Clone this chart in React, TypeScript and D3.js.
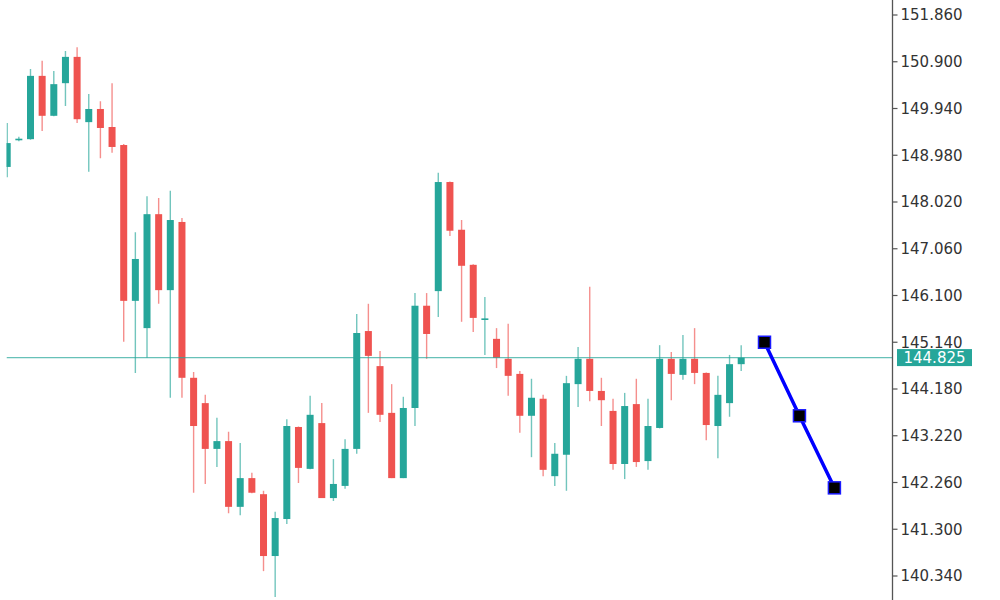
import * as d3 from "d3";

// OHLC per candle
const opens = [
  148.74, 149.3, 149.31, 150.61, 149.79, 150.46, 151.0, 149.66, 149.93, 149.56,
  149.19, 145.99, 145.43, 147.77, 146.21, 147.61, 144.41, 143.89, 142.95, 143.11,
  141.76, 142.35, 142.02, 140.75, 141.51, 143.4, 142.54, 143.48, 141.94, 142.19,
  142.95, 145.37, 144.65, 143.69, 142.35, 143.79, 145.89, 146.19, 148.43, 147.45,
  146.73, 145.61, 145.21, 144.8, 144.49, 143.63, 143.98, 142.39, 142.83, 144.28,
  144.8, 144.14, 143.73, 142.64, 143.87, 142.7, 143.38, 144.8, 144.47, 144.8,
  144.51, 143.42, 143.89, 144.69,
];
const highs = [
  149.64, 149.36, 150.75, 150.92, 150.71, 151.12, 151.2, 150.24, 150.09, 150.46,
  149.21, 147.4, 148.14, 148.1, 148.25, 147.69, 144.53, 144.06, 143.59, 143.3,
  143.07, 142.46, 142.09, 141.66, 143.56, 143.41, 144.04, 143.89, 142.74, 143.15,
  145.72, 145.93, 144.96, 144.28, 144.02, 146.15, 146.15, 148.62, 148.44, 147.65,
  146.74, 146.07, 145.43, 145.52, 144.55, 144.39, 144.06, 143.07, 144.45, 145.04,
  146.28, 144.41, 143.98, 144.1, 144.39, 143.98, 145.08, 144.94, 145.29, 145.43,
  144.52, 144.45, 144.88, 145.08,
];
const lows = [
  148.53, 149.27, 149.3, 149.48, 149.78, 149.99, 149.64, 148.64, 148.92, 149.03,
  145.15, 144.51, 144.82, 145.93, 144.0, 144.0, 142.05, 142.23, 142.58, 141.63,
  141.59, 142.04, 140.44, 139.91, 141.41, 142.25, 142.53, 141.94, 141.88, 142.13,
  142.85, 143.69, 143.5, 142.35, 142.35, 143.42, 144.8, 145.66, 147.32, 145.56,
  145.35, 144.88, 144.61, 144.04, 143.28, 142.78, 142.39, 142.19, 142.09, 143.81,
  143.93, 143.42, 142.52, 142.33, 142.58, 142.52, 143.37, 143.95, 144.37, 144.28,
  143.13, 142.76, 143.61, 144.55,
];
const closes = [
  149.23, 149.32, 150.61, 149.79, 150.44, 151.0, 149.72, 149.93, 149.54, 149.15,
  145.99, 146.85, 147.77, 146.21, 147.65, 144.41, 143.42, 142.95, 143.11, 141.76,
  142.35, 142.05, 140.75, 141.53, 143.42, 142.56, 143.65, 141.94, 142.23, 142.95,
  145.33, 144.86, 143.65, 142.35, 143.79, 145.89, 145.31, 148.43, 147.43, 146.71,
  145.64, 145.63, 144.82, 144.45, 143.63, 144.0, 142.52, 142.85, 144.3, 144.8,
  144.14, 143.95, 142.64, 143.83, 142.68, 143.42, 144.8, 144.49, 144.8, 144.51,
  143.44, 144.06, 144.69, 144.825,
];

// forecast polyline (bar index, price)
const forecastIdx = [65, 68, 71];
const forecastVals = [145.14, 143.63, 142.15];

const tickValues = [
  151.86, 150.9, 149.94, 148.98, 148.02, 147.06, 146.1, 145.14, 144.18, 143.22,
  142.26, 141.3, 140.34,
];
const lastPrice = 144.825;

const UP = "#26a69a";
const DOWN = "#ef5350";

const App = () => {
  const width = 1000;
  const height = 600;
  const plotLeft = 6.5;
  const axisX = 892.5;

  const x = d3.scaleLinear().domain([0, 71]).range([7.2, 834.4]);
  const y = d3.scaleLinear().domain([140.34, 151.86]).range([576, 15]);
  const bodyW = 7;

  const candles = opens.map((o, i) => ({
    i,
    o,
    h: highs[i],
    l: lows[i],
    c: closes[i],
  }));

  const line = d3
    .line<number>()
    .x((d) => x(d))
    .y((_, k) => y(forecastVals[k]));

  const fmt = d3.format(".3f");
  const lastY = y(lastPrice);

  return (
    <svg
      width={width}
      height={height}
      style={{ position: "absolute", left: 0, top: 0, background: "#fff" }}
      fontFamily="DejaVu Sans, Verdana, sans-serif"
    >
      <defs>
        <clipPath id="plot">
          <rect x={plotLeft} y={0} width={axisX - plotLeft} height={height} />
        </clipPath>
      </defs>

      <g clipPath="url(#plot)">
        {candles.map((d) => {
          const up = d.c >= d.o;
          const col = up ? UP : DOWN;
          const top = y(Math.max(d.o, d.c));
          const bot = y(Math.min(d.o, d.c));
          const cx = x(d.i);
          return (
            <g key={d.i}>
              <line
                x1={cx}
                x2={cx}
                y1={y(d.h)}
                y2={y(d.l)}
                stroke={col}
                strokeWidth={1.4}
                strokeOpacity={0.65}
              />
              <rect
                x={cx - bodyW / 2}
                y={top}
                width={bodyW}
                height={Math.max(bot - top, 1.6)}
                fill={col}
              />
            </g>
          );
        })}

        <line
          x1={plotLeft}
          x2={axisX}
          y1={lastY}
          y2={lastY}
          stroke={UP}
          strokeWidth={1.4}
          strokeOpacity={0.7}
        />
      </g>

      <path
        d={line(forecastIdx) || ""}
        fill="none"
        stroke="#0000ff"
        strokeWidth={3.5}
      />
      {forecastIdx.map((d, k) => (
        <rect
          key={k}
          x={x(d) - 6}
          y={y(forecastVals[k]) - 6}
          width={12}
          height={12}
          fill="#000"
          stroke="#1a1aff"
          strokeWidth={1.5}
        />
      ))}

      {/* right price axis */}
      <line x1={axisX} x2={axisX} y1={0} y2={height} stroke="#555" strokeWidth={1.3} />
      {tickValues.map((t) => (
        <g key={t} transform={`translate(${axisX},${y(t)})`}>
          <line x1={0} x2={5} stroke="#555" strokeWidth={1.2} />
          <text x={8} dy="0.36em" fontSize={15} fill="#333">
            {fmt(t)}
          </text>
        </g>
      ))}

      <rect x={897} y={lastY - 8.5} width={75} height={17} fill={UP} />
      <text
        x={934.5}
        y={lastY}
        dy="0.36em"
        fontSize={15}
        fill="#fff"
        textAnchor="middle"
      >
        {fmt(lastPrice)}
      </text>
    </svg>
  );
};

export default App;
